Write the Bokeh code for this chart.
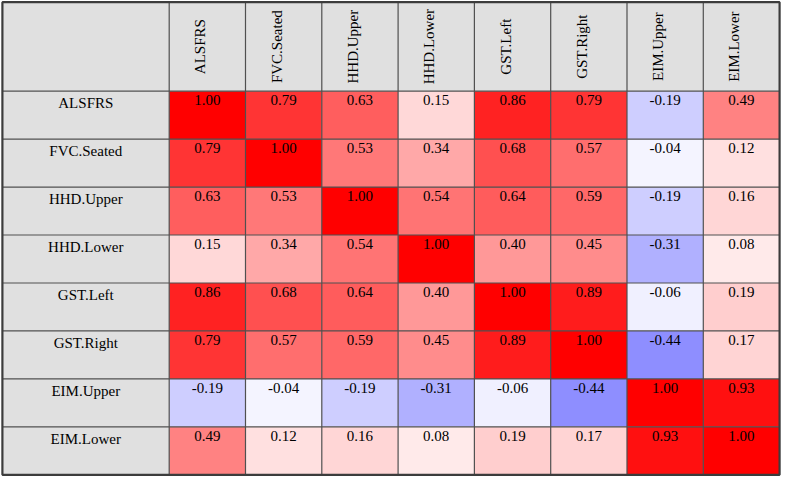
import math
from bokeh.plotting import figure
from bokeh.models import ColumnDataSource, Range1d
from bokeh.transform import linear_cmap
from bokeh.core.properties import value
from bokeh.embed import file_html
from bokeh.resources import INLINE

variables = ["ALSFRS", "FVC.Seated", "HHD.Upper", "HHD.Lower",
             "GST.Left", "GST.Right", "EIM.Upper", "EIM.Lower"]

corr = [
    [1.00, 0.79, 0.63, 0.15, 0.86, 0.79, -0.19, 0.49],
    [0.79, 1.00, 0.53, 0.34, 0.68, 0.57, -0.04, 0.12],
    [0.63, 0.53, 1.00, 0.54, 0.64, 0.59, -0.19, 0.16],
    [0.15, 0.34, 0.54, 1.00, 0.40, 0.45, -0.31, 0.08],
    [0.86, 0.68, 0.64, 0.40, 1.00, 0.89, -0.06, 0.19],
    [0.79, 0.57, 0.59, 0.45, 0.89, 1.00, -0.44, 0.17],
    [-0.19, -0.04, -0.19, -0.31, -0.06, -0.44, 1.00, 0.93],
    [0.49, 0.12, 0.16, 0.08, 0.19, 0.17, 0.93, 1.00],
]

n = len(variables)
LABEL_W = 2.186   # width of the row-label column, in cell units
HEAD_H = 1.855    # height of the header row, in cell units
PAD_X = 0.025
PAD_Y = 0.035
FONT = value("'Liberation Serif', 'Times New Roman', Times, serif")
FSIZE = "15px"

# blue - white - red palette
palette = []
for k in range(256):
    t = -1 + 2 * k / 255
    if t < 0:
        g = int(round(255 * (1 + t)))
        palette.append("#%02x%02x%02x" % (g, g, 255))
    else:
        g = int(round(255 * (1 - t)))
        palette.append("#%02x%02x%02x" % (255, g, g))

cells = dict(left=[], right=[], top=[], bottom=[], val=[], label=[], xc=[])
for j in range(n):
    for i in range(n):
        v = corr[j][i]
        cells["left"].append(i)
        cells["right"].append(i + 1)
        cells["top"].append(-j)
        cells["bottom"].append(-j - 1)
        cells["val"].append(v)
        cells["label"].append("%.2f" % v)
        cells["xc"].append(i + 0.5)
src = ColumnDataSource(cells)

p = figure(width=781, height=476,
           x_range=Range1d(-LABEL_W - PAD_X, n + PAD_X),
           y_range=Range1d(-n - PAD_Y, HEAD_H + PAD_Y),
           output_backend="svg", toolbar_location=None, min_border=0)
p.axis.visible = False
p.grid.visible = False
p.outline_line_color = None
p.background_fill_color = "white"
p.border_fill_color = "white"

# gray label areas
p.quad(left=[-LABEL_W, -LABEL_W], right=[n, 0], top=[HEAD_H, 0], bottom=[0, -n],
       fill_color="#e0e0e0", line_color=None)

# coloured cells
p.quad(left="left", right="right", top="top", bottom="bottom", source=src,
       fill_color=linear_cmap("val", palette, -1, 1), line_color=None)

# inner grid lines
vx = list(range(n))
p.segment(x0=vx, x1=vx, y0=[-n] * n, y1=[HEAD_H] * n, line_color="#505050", line_width=1.2)
hy = [-j for j in range(n)]
p.segment(x0=[-LABEL_W] * n, x1=[n] * n, y0=hy, y1=hy, line_color="#505050", line_width=1.2)

# outer border
p.quad(left=[-LABEL_W], right=[n], top=[HEAD_H], bottom=[-n], fill_color=None,
       line_color="#3c3c3c", line_width=2.2)

# cell values
p.text(x="xc", y="top", text="label", source=src, text_font=FONT, text_font_size=FSIZE,
       text_align="center", text_baseline="top", y_offset=4, text_color="black")

# row labels
p.text(x=[-LABEL_W / 2] * n, y=[-j for j in range(n)], text=variables, text_font=FONT,
       text_font_size=FSIZE, text_align="center", text_baseline="top", y_offset=4,
       text_color="black")

# column headers
p.text(x=[i + 0.5 for i in range(n)], y=[HEAD_H / 2] * n, text=variables, text_font=FONT,
       text_font_size=FSIZE, text_align="center", text_baseline="middle", angle=math.pi / 2,
       x_offset=-7, text_color="black")

open("out.html", "w").write(file_html(p, INLINE))
